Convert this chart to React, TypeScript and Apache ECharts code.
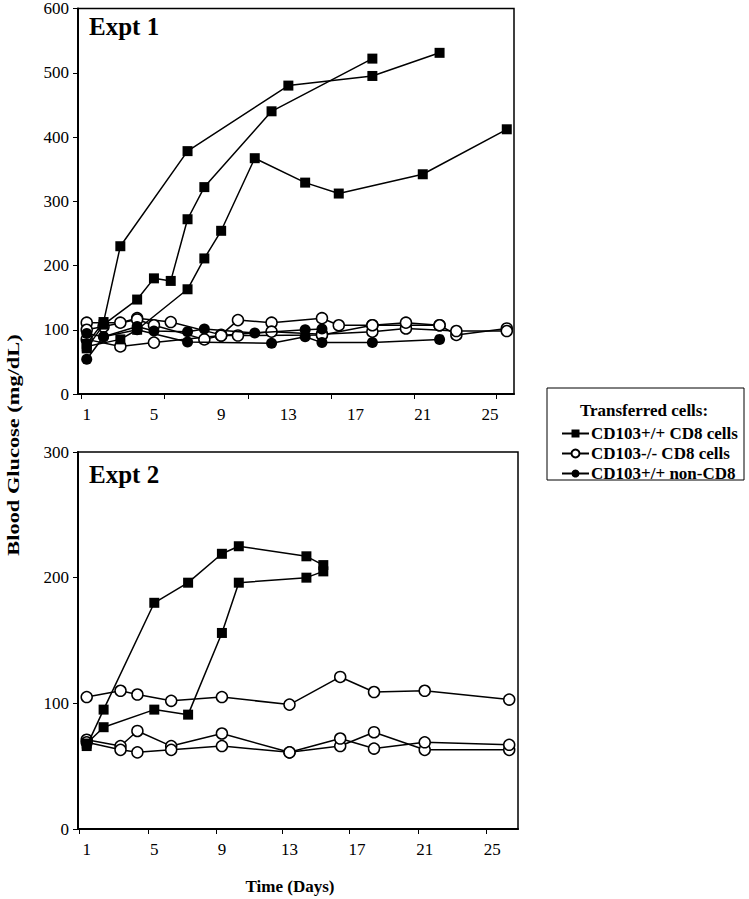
import { useEffect, useRef } from "react";
import * as echarts from "echarts";

// ---- tick labels / positions ----
const xTickLabels = [1, 5, 9, 13, 17, 21, 25];
const topXTickMarks = [0.65, 5.62, 10.6, 15.55, 20.5, 25.4];
const bottomXTickMarks = [0.54, 4.65, 8.66, 12.6, 16.54, 20.62, 24.63];

// ---- Expt 1 ----
const e1CD8a = [[1, 78], [2, 112], [3, 230], [7, 378], [13, 480], [18, 495], [22, 531]];
const e1CD8b = [[1, 71], [2, 108], [4, 147], [5, 180], [6, 176], [7, 272], [8, 322], [12, 440], [18, 522]];
const e1CD8c = [[1, 74], [3, 85], [4, 100], [7, 163], [8, 211], [9, 254], [11, 367], [14, 329], [16, 312], [21, 342], [26, 412]];
const e1KOa = [[1, 111], [3, 111], [4, 118], [6, 112], [9, 92], [10, 115], [12, 111], [15, 118], [16, 107], [18, 107], [22, 107], [23, 92], [26, 102]];
const e1KOb = [[1, 100], [2, 105], [4, 116], [5, 107], [8, 85], [9, 91], [12, 97], [15, 93], [18, 97], [20, 102], [23, 98], [26, 98]];
const e1KOc = [[1, 85], [3, 74], [5, 80], [9, 91], [10, 91], [15, 92], [18, 107], [20, 111], [22, 107]];
const e1NonA = [[1, 94], [2, 89], [4, 105], [5, 98], [7, 97], [8, 101], [11, 95], [14, 100], [15, 101]];
const e1NonB = [[1, 54], [2, 89], [4, 100], [7, 81], [12, 79], [14, 89], [15, 80], [18, 80], [22, 85]];

// ---- Expt 2 ----
const e2CD8a = [[1, 66], [2, 95], [5, 180], [7, 196], [9, 219], [10, 225], [14, 217], [15, 210]];
const e2CD8b = [[1, 68], [2, 81], [5, 95], [7, 91], [9, 156], [10, 196], [14, 200], [15, 205]];
const e2KOa = [[1, 105], [3, 110], [4, 107], [6, 102], [9, 105], [13, 99], [16, 121], [18, 109], [21, 110], [26, 103]];
const e2KOb = [[1, 71], [3, 66], [4, 78], [6, 66], [9, 76], [13, 61], [16, 66], [18, 77], [21, 63], [26, 63]];
const e2KOc = [[1, 69], [3, 63], [4, 61], [6, 63], [9, 66], [13, 61], [16, 72], [18, 64], [21, 69], [26, 67]];

const NAME_SQ = "CD103+/+ CD8 cells";
const NAME_OPEN = "CD103-/- CD8 cells";
const NAME_FILL = "CD103+/+ non-CD8";

const FONT = "'Liberation Serif', 'Times New Roman', serif";

type Kind = "sq" | "open" | "fill";

function mk(name: string, data: number[][], idx: number, kind: Kind) {
  return {
    type: "line",
    name,
    data,
    xAxisIndex: idx,
    yAxisIndex: idx,
    symbol: kind === "sq" ? "rect" : "circle",
    symbolSize: kind === "sq" ? 10 : 11,
    z: kind === "sq" ? 4 : kind === "fill" ? 3 : 2,
    lineStyle: { color: "#000", width: 1.5 },
    itemStyle: {
      color: kind === "open" ? "#fff" : "#000",
      borderColor: "#000",
      borderWidth: kind === "open" ? 1.5 : 0,
    },
    emphasis: { disabled: true },
  };
}

export default function App() {
  const ref = useRef<HTMLDivElement>(null);
  useEffect(() => {
    if (!ref.current) return;
    const chart = echarts.init(ref.current, undefined, { renderer: "svg" });
    const xAxisBase = (min: number, max: number, marks: number[]) => ({
      type: "value",
      min,
      max,
      axisLine: { lineStyle: { color: "#000", width: 2 } },
      axisTick: { show: true, customValues: marks, length: 5, inside: false, lineStyle: { color: "#000" } },
      axisLabel: { customValues: xTickLabels, color: "#000", fontSize: 17, fontFamily: FONT, margin: 12 },
      splitLine: { show: false },
    });
    const yAxisBase = (max: number) => ({
      type: "value",
      min: 0,
      max,
      interval: 100,
      axisLine: { show: true, lineStyle: { color: "#000", width: 2 } },
      axisTick: { show: true, length: 5, lineStyle: { color: "#000" } },
      axisLabel: { color: "#000", fontSize: 17, fontFamily: FONT, margin: 9 },
      splitLine: { show: false },
    });
    chart.setOption({
      animation: false,
      backgroundColor: "#fff",
      grid: [
        { left: 78, top: 8, width: 436, height: 386, show: true, borderColor: "#000", borderWidth: 1.5 },
        { left: 78, top: 452, width: 440, height: 377, show: true, borderColor: "#000", borderWidth: 1.5 },
      ],
      xAxis: [
        { ...xAxisBase(0.48, 26.43, topXTickMarks), gridIndex: 0 },
        { ...xAxisBase(0.485, 26.52, bottomXTickMarks), gridIndex: 1 },
      ],
      yAxis: [
        { ...yAxisBase(600), gridIndex: 0 },
        { ...yAxisBase(300), gridIndex: 1 },
      ],
      title: [
        { text: "Expt 1", left: 84, top: 9, textStyle: { fontSize: 25, fontWeight: "bold", fontFamily: FONT, color: "#000" } },
        { text: "Expt 2", left: 84, top: 457, textStyle: { fontSize: 25, fontWeight: "bold", fontFamily: FONT, color: "#000" } },
      ],
      legend: {
        data: [NAME_SQ, NAME_OPEN, NAME_FILL],
        orient: "vertical",
        left: 556,
        top: 420,
        itemWidth: 27,
        itemHeight: 10,
        itemGap: 3,
        selectedMode: false,
        textStyle: { fontSize: 17, fontWeight: "bold", fontFamily: FONT, color: "#000", padding: [0, 0, 0, -3] },
      },
      graphic: [
        { type: "rect", shape: { x: 547, y: 388, width: 197, height: 92 }, style: { fill: "none", stroke: "#000", lineWidth: 1 } },
        { type: "text", x: 644, y: 410, style: { text: "Transferred cells:", font: `bold 17px ${FONT}`, fill: "#000", textAlign: "center", textVerticalAlign: "middle" } },
        { type: "text", x: 14, y: 445, rotation: Math.PI / 2, scaleX: 1.4, style: { text: "Blood Glucose (mg/dL)", font: `bold 16px ${FONT}`, fill: "#000", textAlign: "center", textVerticalAlign: "middle" } },
        { type: "text", x: 290, y: 886, style: { text: "Time (Days)", font: `bold 17px ${FONT}`, fill: "#000", textAlign: "center", textVerticalAlign: "middle" } },
      ],
      series: [
        mk(NAME_OPEN, e1KOa, 0, "open"),
        mk(NAME_OPEN, e1KOb, 0, "open"),
        mk(NAME_OPEN, e1KOc, 0, "open"),
        mk(NAME_FILL, e1NonA, 0, "fill"),
        mk(NAME_FILL, e1NonB, 0, "fill"),
        mk(NAME_SQ, e1CD8a, 0, "sq"),
        mk(NAME_SQ, e1CD8b, 0, "sq"),
        mk(NAME_SQ, e1CD8c, 0, "sq"),
        mk(NAME_OPEN, e2KOa, 1, "open"),
        mk(NAME_OPEN, e2KOb, 1, "open"),
        mk(NAME_OPEN, e2KOc, 1, "open"),
        mk(NAME_SQ, e2CD8a, 1, "sq"),
        mk(NAME_SQ, e2CD8b, 1, "sq"),
      ],
    });
    return () => chart.dispose();
  }, []);
  return <div ref={ref} style={{ position: "fixed", left: 0, top: 0, width: 749, height: 899 }} />;
}
